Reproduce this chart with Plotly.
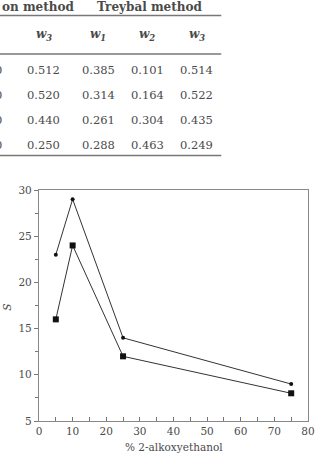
import plotly.graph_objects as go

# ---- data ----
pct = [5, 10, 25, 75]
s_circle = [23, 29, 14, 9]
s_square = [16, 24, 12, 8]

table_header_groups = ["on method", "Treybal method"]
table_cols = ["w<sub>3</sub>", "w<sub>1</sub>", "w<sub>2</sub>", "w<sub>3</sub>"]
col_a_w3 = ["0.512", "0.520", "0.440", "0.250"]
treybal_w1 = ["0.385", "0.314", "0.261", "0.288"]
treybal_w2 = ["0.101", "0.164", "0.304", "0.463"]
treybal_w3 = ["0.514", "0.522", "0.435", "0.249"]

W, H = 323, 461
L, R, T, B = 39, 8, 190, 40
PW, PH = W - L - R, H - T - B

def px(x):
    return (x - L) / PW

def py(y):
    return (H - B - y) / PH

FONT = "DejaVu Serif, Liberation Serif, serif"
TXT = "#4a4a4a"

fig = go.Figure()
fig.add_trace(go.Scatter(x=pct, y=s_circle, mode="lines+markers",
                         line=dict(color="#333", width=1),
                         marker=dict(symbol="circle", size=4, color="#111"),
                         showlegend=False))
fig.add_trace(go.Scatter(x=pct, y=s_square, mode="lines+markers",
                         line=dict(color="#333", width=1),
                         marker=dict(symbol="square", size=6, color="#111"),
                         showlegend=False))

ann = []
# table headers
ann.append(dict(x=px(-1), y=py(6.5), text="<b>" + table_header_groups[0] + "</b>",
                xanchor="left", yanchor="middle", font=dict(size=12)))
ann.append(dict(x=px(152), y=py(6.5), text="<b>" + table_header_groups[1] + "</b>",
                xanchor="center", yanchor="middle", font=dict(size=12)))
col_x = [44, 100, 150, 201]
for cx, lab in zip(col_x, table_cols):
    ann.append(dict(x=px(cx), y=py(35), text="<b><i>" + lab + "</i></b>",
                    xanchor="center", yanchor="middle", font=dict(size=12)))
row_y = [70, 95, 120, 145]
for cx, col in zip(col_x, [col_a_w3, treybal_w1, treybal_w2, treybal_w3]):
    for ry, v in zip(row_y, col):
        ann.append(dict(x=px(cx), y=py(ry), text=v, xanchor="center",
                        yanchor="middle", font=dict(size=11.5)))
for ry in row_y:
    ann.append(dict(x=px(3.5), y=py(ry), text="0", xanchor="right",
                    yanchor="middle", font=dict(size=11.5)))
# axis titles
ann.append(dict(x=px(6), y=py(307), text="<i>S</i>", textangle=-90,
                xanchor="center", yanchor="middle", font=dict(size=10.5)))
ann.append(dict(x=0.5, y=py(447), text="% 2-alkoxyethanol",
                xanchor="center", yanchor="middle", font=dict(size=10.5)))
for a in ann:
    a.update(xref="paper", yref="paper", showarrow=False)
    a["font"].update(family=FONT, color=TXT)

shapes = []
for yy, w in [(15.5, 1.3), (54, 1.3), (155.5, 1.3)]:
    shapes.append(dict(type="line", xref="paper", yref="paper",
                       x0=px(-5), x1=px(226), y0=py(yy), y1=py(yy),
                       line=dict(color="#777", width=w)))

axis_common = dict(showgrid=False, zeroline=False, showline=True, mirror=True,
                   linecolor="#888", linewidth=1.3, tickcolor="#777",
                   tickfont=dict(family=FONT, size=10.5, color=TXT))

fig.update_layout(
    width=W, height=H, margin=dict(l=L, r=R, t=T, b=B),
    paper_bgcolor="white", plot_bgcolor="white",
    font=dict(family=FONT, color=TXT),
    annotations=ann, shapes=shapes,
    xaxis=dict(range=[0, 80], tickvals=[0, 10, 20, 30, 40, 50, 60, 70, 80],
               ticks="inside", ticklen=4, tickwidth=1,
               minor=dict(tickvals=[5, 15, 25, 35, 45, 55, 65, 75],
                          ticks="inside", ticklen=4, tickcolor="#777"),
               **axis_common),
    yaxis=dict(range=[5, 30], tickvals=[5, 10, 15, 20, 25, 30],
               ticks="outside", ticklen=4, tickwidth=1,
               minor=dict(tickvals=[7.5, 12.5, 17.5, 22.5, 27.5],
                          ticks="outside", ticklen=3, tickcolor="#777"),
               **axis_common),
)

fig.write_html("out.html")
